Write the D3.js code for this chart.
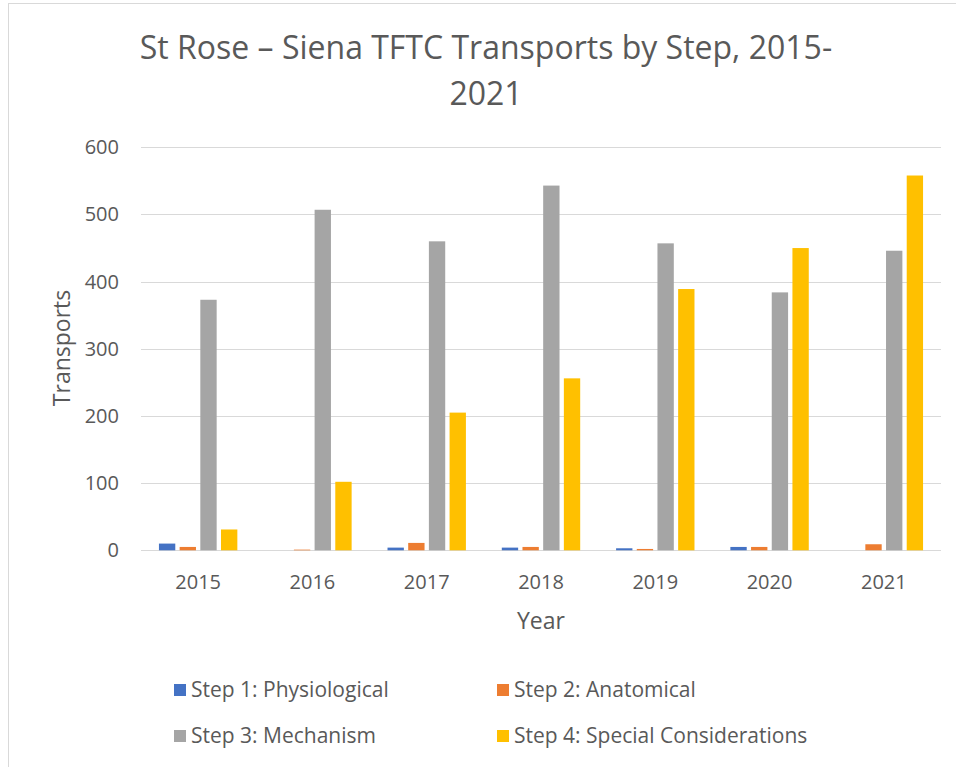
<!DOCTYPE html>
<html>
<head>
<meta charset="utf-8">
<script src="https://cdn.jsdelivr.net/npm/d3@7"></script>
<style>
  body { margin: 0; background: #fff; }
  text { font-family: "Open Sans", "Liberation Sans", sans-serif; fill: #595959; }
</style>
</head>
<body>
<div id="chart"></div>
<script>
const years = ["2015", "2016", "2017", "2018", "2019", "2020", "2021"];
const seriesNames = ["Step 1: Physiological", "Step 2: Anatomical", "Step 3: Mechanism", "Step 4: Special Considerations"];
const seriesColors = ["#4472C4", "#ED7D31", "#A5A5A5", "#FFC000"];
const step1 = [10, 0, 4, 4, 3, 5, 0];
const step2 = [5, 1, 11, 5, 2, 5, 9];
const step3 = [373, 507, 460, 543, 457, 384, 446];
const step4 = [31, 102, 205, 256, 389, 450, 558];
const yTicks = [0, 100, 200, 300, 400, 500, 600];

const allSeries = [step1, step2, step3, step4];

const width = 956;
const height = 767;

var svg = d3.select("#chart").append("svg")
  .attr("width", width)
  .attr("height", height);

// chart frame
svg.append("rect")
  .attr("x", 8.5)
  .attr("y", 3.5)
  .attr("width", 1000)
  .attr("height", 1000)
  .style("fill", "#fff")
  .style("stroke", "#d9d9d9")
  .style("stroke-width", 1);

var x0 = d3.scaleBand().domain(years).range([141, 941]);
var groupWidth = x0.bandwidth() * 0.686;
var x1 = d3.scaleBand().domain(d3.range(4)).range([0, groupWidth]).paddingInner(0.21);
var y = d3.scaleLinear().domain([0, 600]).range([550.3, 147.3]);

// gridlines
svg.append("g")
  .selectAll("line")
  .data(yTicks)
  .join("line")
  .attr("x1", 141)
  .attr("x2", 941)
  .attr("y1", d => Math.round(y(d)) + 0.5)
  .attr("y2", d => Math.round(y(d)) + 0.5)
  .style("stroke", "#d9d9d9")
  .style("stroke-width", 1);

// y tick labels
svg.append("g")
  .selectAll("text")
  .data(yTicks)
  .join("text")
  .attr("x", 119)
  .attr("y", d => y(d))
  .attr("dy", "0.35em")
  .attr("text-anchor", "end")
  .style("font-size", "20px")
  .text(d => d);

// bars
var groups = svg.append("g")
  .selectAll("g")
  .data(years)
  .join("g")
  .attr("transform", d => "translate(" + (x0(d) + (x0.bandwidth() - groupWidth) / 2) + ",0)");

groups.selectAll("rect")
  .data((d, i) => allSeries.map((s, k) => ({ k: k, v: s[i] })))
  .join("rect")
  .attr("x", d => x1(d.k))
  .attr("width", x1.bandwidth())
  .attr("y", d => y(d.v))
  .attr("height", d => y(0) - y(d.v))
  .style("fill", d => seriesColors[d.k]);

// x tick labels
svg.append("g")
  .selectAll("text")
  .data(years)
  .join("text")
  .attr("x", d => x0(d) + x0.bandwidth() / 2)
  .attr("y", 582)
  .attr("dy", "0.35em")
  .attr("text-anchor", "middle")
  .style("font-size", "20px")
  .text(d => d);

// axis titles
svg.append("text")
  .attr("x", 541)
  .attr("y", 621)
  .attr("dy", "0.35em")
  .attr("text-anchor", "middle")
  .style("font-size", "23px")
  .text("Year");

svg.append("text")
  .attr("transform", "translate(62,348) rotate(-90)")
  .attr("dy", "0.35em")
  .attr("text-anchor", "middle")
  .style("font-size", "23px")
  .text("Transports");

// title
var title = svg.append("text")
  .attr("text-anchor", "middle")
  .style("font-size", "32px");
title.append("tspan").attr("x", 486).attr("y", 59).text("St Rose \u2013 Siena TFTC Transports by Step, 2015-");
title.append("tspan").attr("x", 486).attr("y", 105).text("2021");

// legend
var legendPos = [[174, 690], [497, 690], [174, 736], [497, 736]];
var legend = svg.append("g")
  .selectAll("g")
  .data(seriesNames)
  .join("g")
  .attr("transform", (d, i) => "translate(" + legendPos[i][0] + "," + legendPos[i][1] + ")");

legend.append("rect")
  .attr("x", 0)
  .attr("y", -6)
  .attr("width", 12)
  .attr("height", 12)
  .style("fill", (d, i) => seriesColors[i]);

legend.append("text")
  .attr("x", 17)
  .attr("y", 0)
  .attr("dy", "0.35em")
  .style("font-size", "21px")
  .text(d => d);
</script>
</body>
</html>
